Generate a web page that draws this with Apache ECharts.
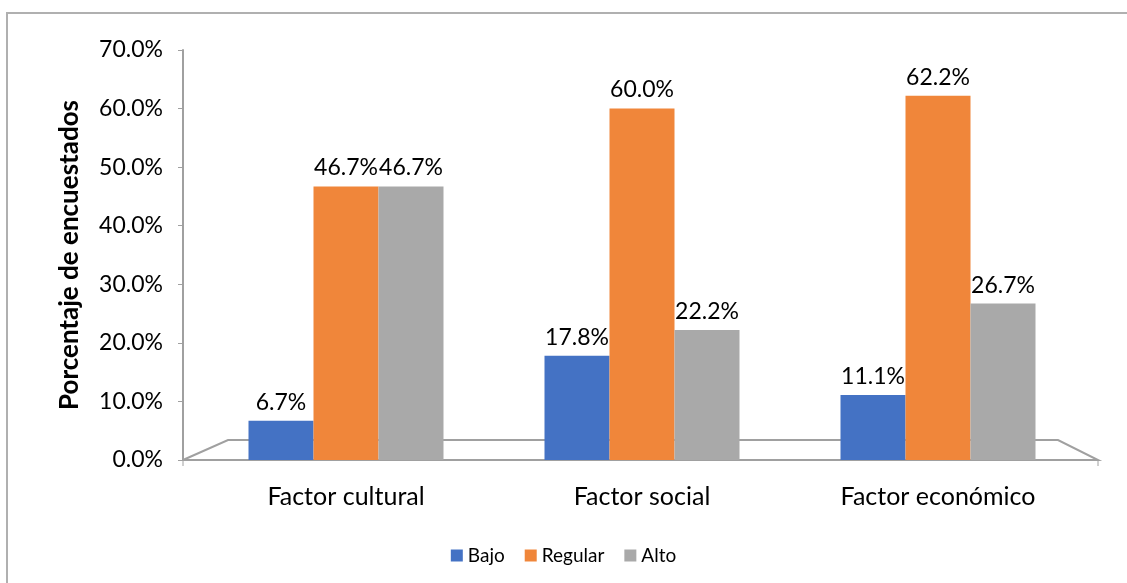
<!DOCTYPE html>
<html>
<head>
<meta charset="utf-8">
<script src="https://cdn.jsdelivr.net/npm/echarts@6/dist/echarts.min.js"></script>
<style>html,body{margin:0;padding:0;background:#fff;}#c{width:1127px;height:583px;}</style>
</head>
<body>
<div id="c"></div>
<script>
const categories = ['Factor cultural', 'Factor social', 'Factor económico'];
const seriesNames = ['Bajo', 'Regular', 'Alto'];
const bajo = [6.7, 17.8, 11.1];
const regular = [46.7, 60.0, 62.2];
const alto = [46.7, 22.2, 26.7];
const yTicks = [0, 10, 20, 30, 40, 50, 60, 70];

const colors = ['#4472C4', '#F0863A', '#A9A9A9'];
const font = 'Lato, "Noto Sans", sans-serif';
const G = {left: 198, right: 41, top: 50, bottom: 123};
const axisOffset = 15;

const chart = echarts.init(document.getElementById('c'));
function mk(name, data, i) {
  return {
    name: name, type: 'bar', data: data, barWidth: 65, barGap: '0%',
    itemStyle: {color: colors[i]},
    label: {show: true, position: 'top', distance: 7, color: '#000', fontSize: 23, fontFamily: font,
      formatter: p => p.value.toFixed(1) + '%'},
    z: 3
  };
}
chart.setOption({
  animation: false,
  backgroundColor: '#fff',
  grid: G,
  legend: {
    bottom: 13, left: 'center', itemWidth: 12, itemHeight: 12, itemGap: 20,
    icon: 'rect',
    textStyle: {fontSize: 19, fontFamily: font, color: '#000'},
    data: seriesNames
  },
  xAxis: {
    type: 'category', data: categories,
    axisLine: {show: false},
    axisTick: {show: false},
    axisLabel: {fontSize: 25, fontFamily: font, color: '#000', margin: 24}
  },
  yAxis: {
    type: 'value', min: yTicks[0], max: yTicks[yTicks.length - 1], interval: 10,
    offset: axisOffset,
    name: 'Porcentaje de encuestados', nameLocation: 'middle', nameGap: 100,
    nameTextStyle: {fontSize: 26, fontWeight: 'bold', fontFamily: font, color: '#000'},
    axisLine: {show: true, lineStyle: {color: '#A0A0A0', width: 2}},
    axisTick: {show: true, length: 5, lineStyle: {color: '#A0A0A0'}},
    splitLine: {show: false},
    axisLabel: {fontSize: 23, fontFamily: font, color: '#000', margin: 20,
      formatter: v => v.toFixed(1) + '%'}
  },
  series: [mk(seriesNames[0], bajo, 0), mk(seriesNames[1], regular, 1), mk(seriesNames[2], alto, 2)]
});

const W = 1127;
const y0 = chart.convertToPixel({yAxisIndex: 0}, 0);
const xl = G.left - axisOffset, xr = W - G.right + 12;
chart.setOption({
  graphic: [
    {type: 'rect', shape: {x: 7, y: 13, width: 1125, height: 600}, style: {fill: 'none', stroke: '#B0B0B0', lineWidth: 2}, z: -1},
    {type: 'polyline', shape: {points: [[xl, y0], [xl + 45, y0 - 20], [xr - 40, y0 - 20], [xr, y0], [xl, y0]]},
      style: {fill: 'none', stroke: '#A0A0A0', lineWidth: 2}, z: 1},
    {type: 'line', shape: {x1: xl, y1: y0, x2: xl, y2: y0 + 6}, style: {stroke: '#A0A0A0', lineWidth: 1}},
    {type: 'line', shape: {x1: xr, y1: y0, x2: xr, y2: y0 + 6}, style: {stroke: '#A0A0A0', lineWidth: 1}}
  ]
});
</script>
</body>
</html>
